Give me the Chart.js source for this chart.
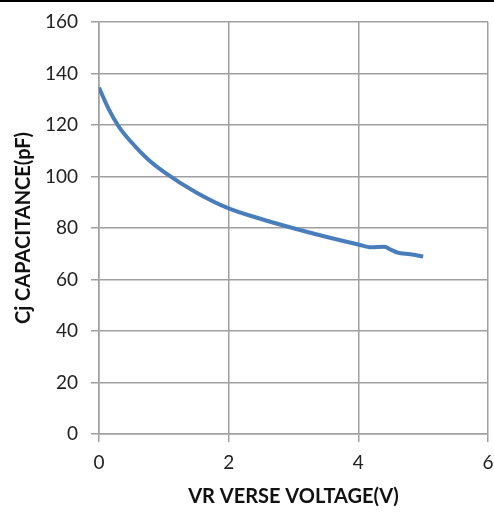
<!DOCTYPE html>
<html>
<head>
<meta charset="utf-8">
<script src="https://cdn.jsdelivr.net/npm/chart.js@4"></script>
<style>
  html, body { margin: 0; padding: 0; background: #fff; }
  #wrap { position: relative; width: 494px; height: 514px; }
  #topline { position: absolute; left: 0; top: 0; width: 494px; height: 2px; background: #000; z-index: 2; }
  canvas { display: block; }
</style>
</head>
<body>
<div id="wrap">
  <div id="topline"></div>
  <canvas id="c" width="494" height="514"></canvas>
</div>
<script>
const voltage = [0, 0.15, 0.3, 0.5, 0.75, 1, 1.5, 2, 2.5, 3, 3.5, 4, 4.2, 4.4, 4.5, 4.6, 4.8, 5];
const capacitance = [134.5, 126.2, 119.6, 113.3, 106.8, 101.8, 93.8, 87.6, 83.5, 79.9, 76.6, 73.6, 72.5, 72.7, 71.6, 70.5, 69.8, 68.9];
const xTickValues = [0, 2, 4, 6];
const yTickValues = [0, 20, 40, 60, 80, 100, 120, 140, 160];
const xTitle = 'VR VERSE VOLTAGE(V)';
const yTitle = 'Cj CAPACITANCE(pF)';

const points = voltage.map((v, i) => ({ x: v, y: capacitance[i] }));
const fontFamily = 'Lato, "Open Sans", "Liberation Sans", sans-serif';

new Chart(document.getElementById('c'), {
  type: 'line',
  data: {
    datasets: [{
      data: points,
      borderColor: '#4a7ebb',
      borderWidth: 4,
      pointRadius: 0,
      fill: false,
      cubicInterpolationMode: 'monotone'
    }]
  },
  options: {
    responsive: false,
    animation: false,
    layout: { padding: { top: 22, right: 6, left: 0, bottom: 0 } },
    plugins: { legend: { display: false }, tooltip: { enabled: false } },
    scales: {
      x: {
        type: 'linear',
        min: 0, max: 6,
        afterBuildTicks: s => { s.ticks = xTickValues.map(v => ({ value: v })); },
        afterFit: s => { s.height = 80; s.paddingLeft = 0; s.paddingRight = 0; },
        grid: { color: '#a0a0a0', lineWidth: 1.5, tickLength: 8 },
        border: { color: '#a0a0a0', width: 1.5 },
        ticks: { color: '#222', font: { family: fontFamily, size: 19 }, padding: 9, maxRotation: 0 },
        title: { display: true, text: xTitle, color: '#111', font: { family: fontFamily, size: 20, weight: 'bold' }, padding: { top: 0, bottom: 5 } }
      },
      y: {
        type: 'linear',
        min: 0, max: 160,
        afterBuildTicks: s => { s.ticks = yTickValues.map(v => ({ value: v })); },
        afterFit: s => { s.width = 99; s.paddingTop = 0; s.paddingBottom = 0; },
        grid: { color: '#a0a0a0', lineWidth: 1.5, tickLength: 8 },
        border: { color: '#a0a0a0', width: 1.5 },
        ticks: { color: '#222', font: { family: fontFamily, size: 19 }, padding: 13 },
        title: { display: true, text: yTitle, color: '#111', font: { family: fontFamily, size: 20, weight: 'bold' }, padding: { top: 12, bottom: 0 } }
      }
    }
  }
});
</script>
</body>
</html>
